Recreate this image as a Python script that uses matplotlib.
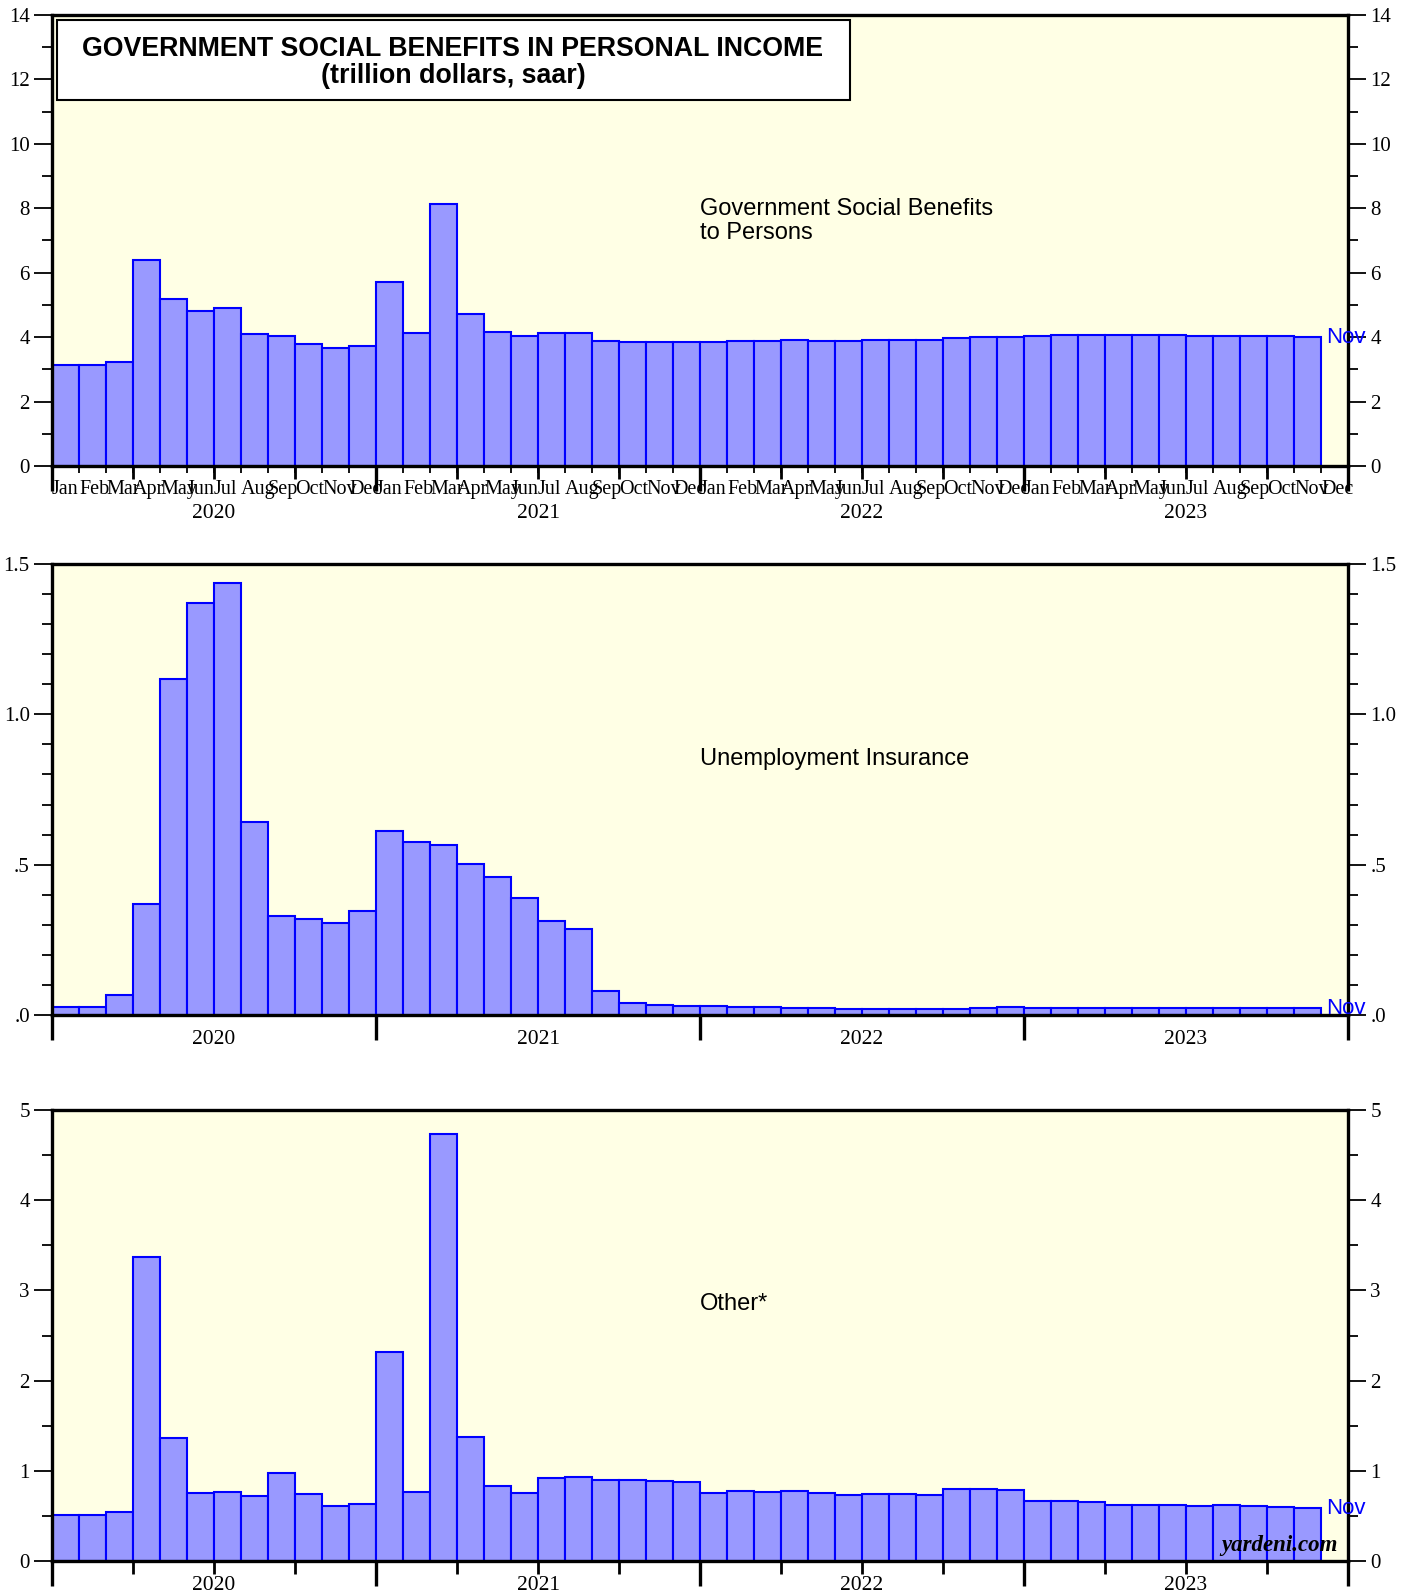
"""Government social benefits in personal income: three stacked monthly bar panels."""

import numpy as np
import matplotlib
matplotlib.use("Agg")
import matplotlib.pyplot as plt
from matplotlib.patches import Rectangle

MONTHS = ["Jan", "Feb", "Mar", "Apr", "May", "Jun",
          "Jul", "Aug", "Sep", "Oct", "Nov", "Dec"]
YEARS = [2020, 2021, 2022, 2023]

# trillion dollars, saar, Jan 2020 .. Nov 2023
gov_benefits = [3.12, 3.12, 3.22, 6.40, 5.19, 4.82, 4.92, 4.09, 4.04, 3.80, 3.66, 3.72,
                5.72, 4.12, 8.12, 4.72, 4.17, 4.03, 4.12, 4.12, 3.88, 3.85, 3.85, 3.86,
                3.84, 3.89, 3.89, 3.91, 3.89, 3.89, 3.90, 3.90, 3.90, 3.97, 3.99, 4.00,
                4.02, 4.06, 4.07, 4.07, 4.08, 4.07, 4.04, 4.03, 4.02, 4.03, 4.00]
unemployment = [0.028, 0.028, 0.068, 0.369, 1.116, 1.370, 1.436, 0.642, 0.328, 0.318, 0.307, 0.345,
                0.611, 0.574, 0.564, 0.503, 0.459, 0.389, 0.314, 0.287, 0.080, 0.041, 0.034, 0.030,
                0.029, 0.027, 0.027, 0.023, 0.023, 0.020, 0.020, 0.020, 0.019, 0.021, 0.024, 0.025,
                0.023, 0.024, 0.024, 0.024, 0.024, 0.023, 0.023, 0.023, 0.022, 0.023, 0.023]
other = [0.51, 0.51, 0.54, 3.37, 1.36, 0.75, 0.76, 0.72, 0.98, 0.74, 0.61, 0.635,
         2.32, 0.76, 4.73, 1.37, 0.83, 0.755, 0.92, 0.935, 0.90, 0.90, 0.89, 0.88,
         0.755, 0.78, 0.766, 0.78, 0.755, 0.73, 0.74, 0.74, 0.73, 0.80, 0.80, 0.79,
         0.664, 0.67, 0.65, 0.62, 0.62, 0.617, 0.61, 0.617, 0.61, 0.595, 0.584]

BG = "#FFFFE5"
FILL = "#9999FF"
EDGE = "#0000FF"
SERIF = "Liberation Serif"
SANS = "Liberation Sans"

n_months = len(YEARS) * 12
x = np.arange(len(gov_benefits))

fig = plt.figure(figsize=(14.08, 15.93), dpi=100)
left, width, height = 52 / 1408, 1296 / 1408, 451 / 1593
ax1 = fig.add_axes([left, 1 - 466 / 1593, width, height])
ax2 = fig.add_axes([left, 1 - 1015 / 1593, width, height])
ax3 = fig.add_axes([left, 1 - 1561 / 1593, width, height])


def style_panel(ax, values, ymax, major, minor, ylabels, label, label_y):
    ax.set_facecolor(BG)
    ax.bar(x, values, width=1.0, align="edge", color=FILL, edgecolor=EDGE, linewidth=1.5, zorder=2)
    ax.set_xlim(0, n_months)
    ax.set_ylim(0, ymax)
    for s in ax.spines.values():
        s.set_linewidth(2.4)
        s.set_zorder(3)

    yt = np.arange(0, ymax + major / 2, major)
    ax.set_yticks(yt, labels=ylabels)
    ax.set_yticks(np.arange(0, ymax + minor / 2, minor), minor=True)
    ax.tick_params(axis="y", which="both", left=True, right=True,
                   labelleft=True, labelright=True, direction="out",
                   labelsize=15, width=1.3, pad=3)
    ax.tick_params(axis="y", which="major", length=13)
    ax.tick_params(axis="y", which="minor", length=7)
    for t in ax.get_yticklabels():
        t.set_fontfamily(SERIF)

    # blue "Nov" tag at the last bar
    ax.text(len(values) + 0.2, values[-1], "Nov", color=EDGE, fontsize=16,
            family=SANS, va="center", ha="left", zorder=4)
    ax.text(24, label_y, label, transform=ax.get_xaxis_transform(),
            fontsize=17, family=SANS, va="top", ha="left", linespacing=1.1)


style_panel(ax1, gov_benefits, 14, 2, 1, ["0", "2", "4", "6", "8", "10", "12", "14"],
            "Government Social Benefits\nto Persons", 1 - (198 - 15) / 451)
style_panel(ax2, unemployment, 1.5, 0.5, 0.1, [".0", ".5", "1.0", "1.5"],
            "Unemployment Insurance", 1 - (748 - 564) / 451)
style_panel(ax3, other, 5, 1, 0.5, ["0", "1", "2", "3", "4", "5"],
            "Other*", 1 - (1293 - 1110) / 451)

# x axis: top panel has month labels + month/quarter/year ticks
month_labels = [MONTHS[i % 12] for i in range(n_months)] + [""]
ax1.set_xticks(np.arange(n_months + 1), labels=month_labels)
ax1.tick_params(axis="x", which="major", length=5, width=1.3, direction="out",
                labelsize=14.5, pad=5)
for t in ax1.get_xticklabels():
    t.set_fontfamily(SERIF)
    t.set_horizontalalignment("left")
sec1 = ax1.secondary_xaxis("bottom")
sec1.set_xticks(np.arange(0, n_months + 1, 12), labels=[])
sec1.set_xticks(np.arange(0, n_months + 1, 3), minor=True)
sec1.tick_params(which="major", length=18, width=2.4)
sec1.tick_params(which="minor", length=9, width=2)
sec1.spines["bottom"].set_visible(False)

# middle panel: year ticks only
ax2.set_xticks(np.arange(0, n_months + 1, 12), labels=[])
ax2.tick_params(axis="x", which="major", length=18, width=2.4, direction="out")

# bottom panel: year + quarter ticks
ax3.set_xticks(np.arange(0, n_months + 1, 12), labels=[])
ax3.set_xticks(np.arange(0, n_months + 1, 3), minor=True)
ax3.tick_params(axis="x", which="major", length=18, width=2.4, direction="out")
ax3.tick_params(axis="x", which="minor", length=9, width=2, direction="out")

# year labels under each panel
for ax, off in [(ax1, -47), (ax2, -24), (ax3, -24)]:
    for i, yr in enumerate(YEARS):
        ax.annotate(str(yr), xy=(i * 12 + 6, 0), xycoords=("data", "axes fraction"),
                    xytext=(0, off * 0.72), textcoords="offset points",
                    ha="center", va="center", fontsize=15.5, family=SERIF)

# title box
ax1.add_patch(Rectangle((5 / 1296, 1 - (99.6 - 15) / 451), 793 / 1296, 80 / 451,
                        transform=ax1.transAxes, facecolor="white", edgecolor="black",
                        linewidth=1.5, zorder=5))
ax1.text(401 / 1296, 1 - (49 - 15) / 451,
         "GOVERNMENT SOCIAL BENEFITS IN PERSONAL INCOME",
         transform=ax1.transAxes, ha="center", va="center", fontsize=19.3,
         fontweight="bold", family=SANS, zorder=6)
ax1.text(401 / 1296, 1 - (76 - 15) / 451, "(trillion dollars, saar)",
         transform=ax1.transAxes, ha="center", va="center", fontsize=19.3,
         fontweight="bold", family=SANS, zorder=6)

ax3.text(47.6, 0.035, "yardeni.com", transform=ax3.get_xaxis_transform(),
         ha="right", va="center", fontsize=16.5, fontweight="bold", style="italic",
         family=SERIF, zorder=6)

plt.savefig("out.png", dpi=100)
